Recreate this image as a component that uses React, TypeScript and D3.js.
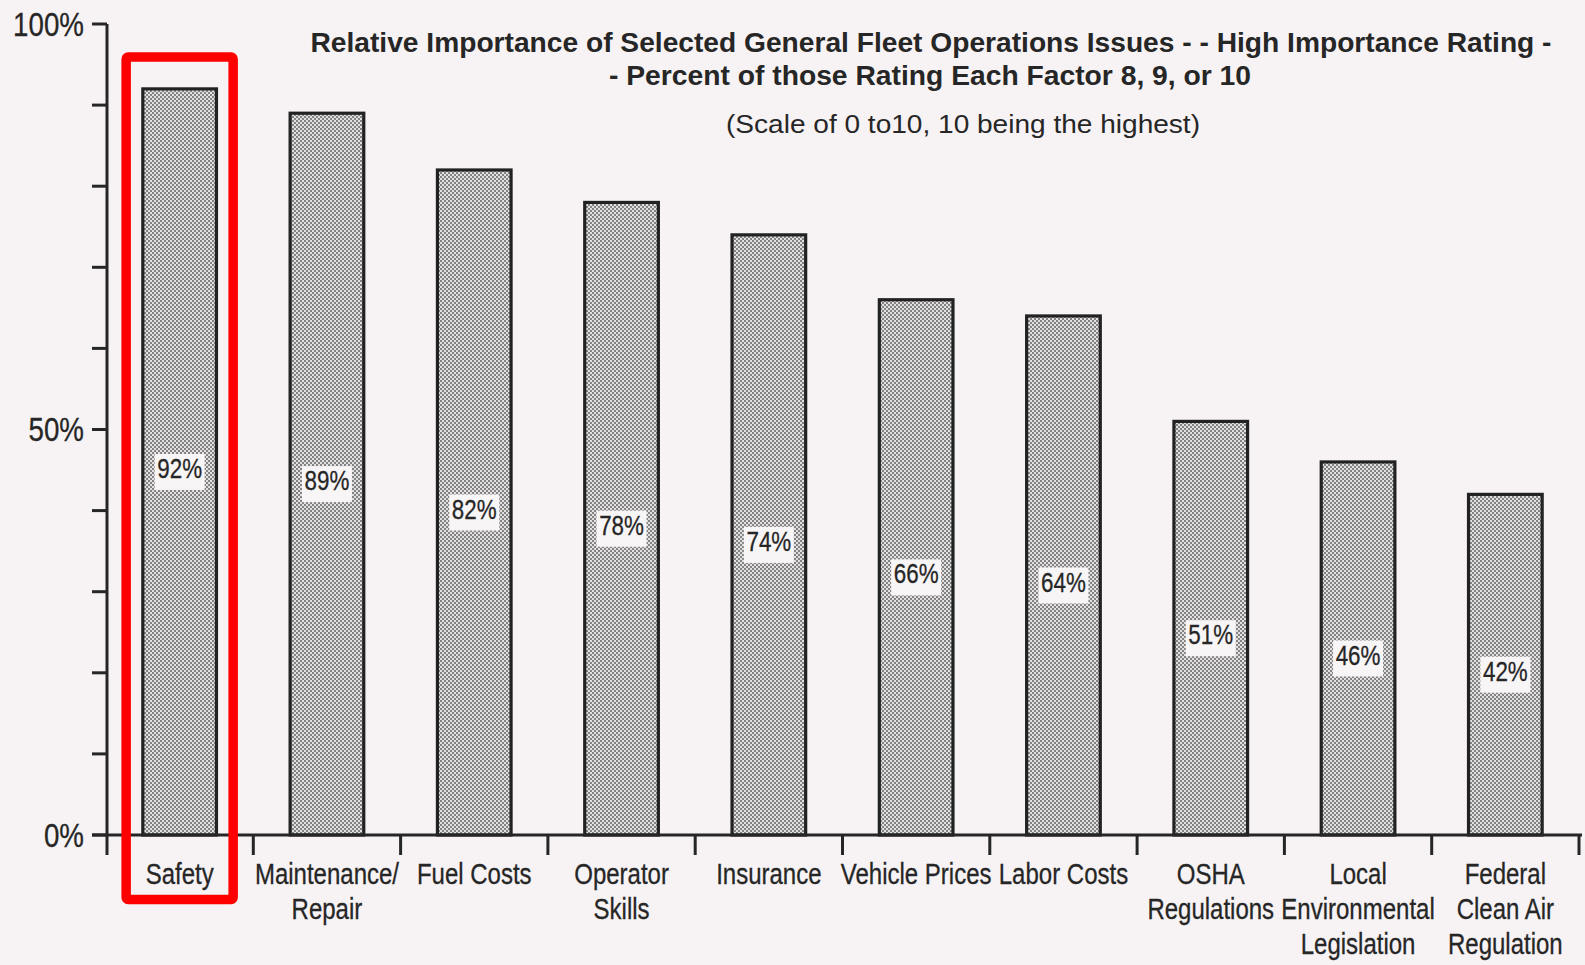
import React, { useEffect } from 'react';
import * as d3 from 'd3';

const categories: string[][] = [
  ['Safety'],
  ['Maintenance/', 'Repair'],
  ['Fuel Costs'],
  ['Operator', 'Skills'],
  ['Insurance'],
  ['Vehicle Prices'],
  ['Labor Costs'],
  ['OSHA', 'Regulations'],
  ['Local', 'Environmental', 'Legislation'],
  ['Federal', 'Clean Air', 'Regulation'],
];
const values: number[] = [92, 89, 82, 78, 74, 66, 64, 51, 46, 42];
const yTicks: number[] = [0, 10, 20, 30, 40, 50, 60, 70, 80, 90, 100];
const yTickLabels: Record<number, string> = { 0: '0%', 50: '50%', 100: '100%' };
const titleLines: string[] = [
  'Relative Importance of Selected General Fleet Operations Issues - - High Importance Rating -',
  '- Percent of those Rating Each Factor 8, 9, or 10',
];
const subtitle = '(Scale of 0 to10, 10 being the highest)';
const highlighted = 'Safety';

const W = 1585;
const H = 965;
const FONT = "'Liberation Sans', Arial, sans-serif";
const INK = '#262626';
const BG = '#f7f3f4';
const SX = 0.8;

export default function App() {
  useEffect(() => {
    document.body.style.margin = '0';
    document.body.style.background = BG;
  }, []);

  const keys = categories.map((c) => c.join(' '));
  const x = d3.scaleBand<string>().domain(keys).range([106, 1579]).paddingInner(0.5).paddingOuter(0.25);
  const y = d3.scaleLinear().domain([0, 100]).range([835, 24]);
  const step = x.step();
  const x0 = 106;
  const base = y(0);

  const hi = x(highlighted)! + x.bandwidth() / 2;

  return (
    <svg width={W} height={H} style={{ display: 'block', background: BG }} fontFamily={FONT}>
      <defs>
        <pattern id="dots" width={4} height={4} patternUnits="userSpaceOnUse">
          <rect width={4} height={4} fill="#e2e0e0" />
          <rect x={0.2} y={0.2} width={1.6} height={1.6} fill="#505050" />
          <rect x={2.2} y={2.2} width={1.6} height={1.6} fill="#505050" />
        </pattern>
      </defs>
      <rect width={W} height={H} fill={BG} />

      {/* Title */}
      <text x={931} y={42} dy="0.35em" textAnchor="middle" fontSize={28} fontWeight="bold" fill={INK}
        textLength={1241} lengthAdjust="spacingAndGlyphs">{titleLines[0]}</text>
      <text x={930} y={75} dy="0.35em" textAnchor="middle" fontSize={28} fontWeight="bold" fill={INK}
        textLength={642} lengthAdjust="spacingAndGlyphs">{titleLines[1]}</text>
      <text x={963} y={124} dy="0.35em" textAnchor="middle" fontSize={26} fill={INK}
        textLength={474} lengthAdjust="spacingAndGlyphs">{subtitle}</text>

      {/* Bars */}
      {values.map((v, i) => (
        <rect key={keys[i]} x={x(keys[i])} y={y(v)} width={x.bandwidth()} height={base - y(v)}
          fill="url(#dots)" stroke="#222" strokeWidth={3.2} />
      ))}

      {/* Value labels */}
      {values.map((v, i) => {
        const cx = x(keys[i])! + x.bandwidth() / 2;
        const cy = y(v / 2) + 6;
        return (
          <g key={'l' + keys[i]}>
            <rect x={cx - 25} y={cy - 14} width={50} height={36} fill="#f8f5f6" />
            <text transform={`translate(${cx},${cy}) scale(${SX},1)`} dy="0.36em" textAnchor="middle"
              fontSize={28} fill={INK} stroke={INK} strokeWidth={0.3}>{v}%</text>
          </g>
        );
      })}

      {/* Y axis */}
      <line x1={107} x2={107} y1={y(100)} y2={base + 20} stroke={INK} strokeWidth={3} />
      {yTicks.map((t) => (
        <line key={'yt' + t} x1={92} x2={107} y1={y(t)} y2={y(t)} stroke={INK} strokeWidth={3} />
      ))}
      {yTicks.filter((t) => yTickLabels[t]).map((t) => (
        <text key={'yl' + t} transform={`translate(84,${y(t)}) scale(0.84,1)`} dy="0.36em" textAnchor="end"
          fontSize={33} fill={INK} stroke={INK} strokeWidth={0.3}>
          {yTickLabels[t]}
        </text>
      ))}

      {/* X axis */}
      <line x1={92} x2={1582} y1={base} y2={base} stroke={INK} strokeWidth={3} />
      {keys.map((k, i) => (
        <line key={'xt' + k} x1={x0 + (i + 1) * step} x2={x0 + (i + 1) * step} y1={base} y2={base + 20}
          stroke={INK} strokeWidth={3} />
      ))}
      {categories.map((lines, i) => {
        const cx = x(keys[i])! + x.bandwidth() / 2;
        return (
          <text key={'xl' + keys[i]} transform={`translate(${cx},0) scale(${SX},1)`} textAnchor="middle"
            fontSize={30} fill={INK} stroke={INK} strokeWidth={0.3}>
            {lines.map((ln, j) => (
              <tspan key={j} x={0} y={873 + j * 35} dy="0.36em">{ln}</tspan>
            ))}
          </text>
        );
      })}

      {/* Highlight */}
      <rect x={hi - 53.5} y={57} width={107} height={842.5} rx={2} fill="none" stroke="#ff0000" strokeWidth={9.5} />
    </svg>
  );
}
